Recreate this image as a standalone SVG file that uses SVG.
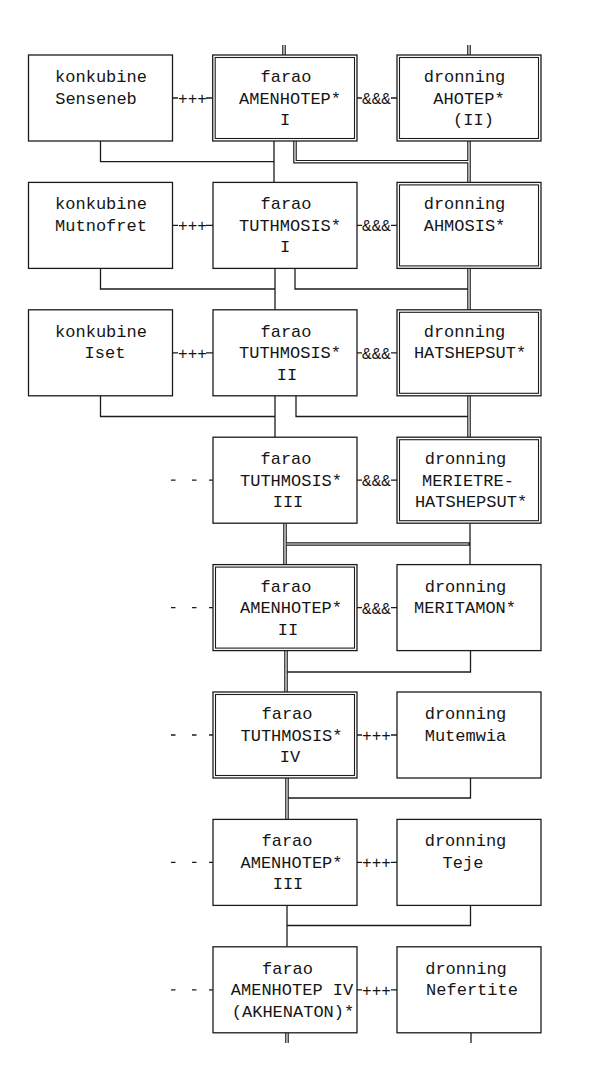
<svg xmlns="http://www.w3.org/2000/svg" width="595" height="1069" viewBox="0 0 595 1069">
<style>
rect.b{fill:#fff;stroke:#1c1c1c;stroke-width:1.3}
rect.in{fill:none;stroke:#1c1c1c;stroke-width:1.1}
text{font-family:"Liberation Mono","DejaVu Sans Mono",monospace;font-size:17px;fill:#151515;text-anchor:middle}
text.sym{font-size:16px}
.c path{fill:none;stroke:#1c1c1c;stroke-width:1.3}
.c .dbl{stroke-width:3.6}
.c .dbli{stroke:#fff;stroke-width:1.2}
</style>
<rect x="0" y="0" width="595" height="1069" fill="#fff"/>
<g class="c" id="connectors">
<path class="dbl" d="M284 45V55M469 45V55"/>
<path class="dbli" d="M284 45V55M469 45V55"/>
<path d="M100.5 141V161.7H274M274 141V182.4"/>
<path class="dbl" d="M295 141V161.7H469M469 141V182.4"/>
<path class="dbli" d="M295 141V161.7H469M469 141V182.4"/>
<path d="M100.5 268.4V289H275M275 268.4V309.8M295 268.4V289H469"/>
<path class="dbl" d="M469 268.4V309.8"/>
<path class="dbli" d="M469 268.4V309.8"/>
<path d="M100.5 395.8V416.5H275M275 395.8V437.2M296 395.8V416.5H469"/>
<path class="dbl" d="M469 395.8V437.2"/>
<path class="dbli" d="M469 395.8V437.2"/>
<path d="M470 523.2V564.6"/>
<path class="dbl" d="M285 523.2V564.6M285 544H470"/>
<path class="dbli" d="M285 523.2V564.6M286.5 544H468.5"/>
<path d="M470.5 650.6V672H286"/>
<path class="dbl" d="M286 650.6V692"/>
<path class="dbli" d="M286 650.6V692"/>
<path d="M470.5 778V798H287"/>
<path class="dbl" d="M287 778V819.4"/>
<path class="dbli" d="M287 778V819.4"/>
<path d="M470.5 905.4V925.5H287M287 905.4V946.8"/>
<path class="dbl" d="M287 1032.8V1043"/>
<path class="dbli" d="M287 1032.8V1043"/>
<path d="M471 1032.8V1043"/>
<path d="M172.5 98H178M206 98H213M357 98H362M391 98H397"/>
<path d="M172.5 225.4H178M206 225.4H213M357 225.4H362M391 225.4H397"/>
<path d="M172.5 352.8H178M206 352.8H213M357 352.8H362M391 352.8H397"/>
<path d="M171 480.2H175.5M192 480.2H196.5M209 480.2H213M357 480.2H362M391 480.2H397"/>
<path d="M171 607.6H175.5M192 607.6H196.5M209 607.6H213M357 607.6H362M391 607.6H397"/>
<path d="M171 735H175.5M192 735H196.5M209 735H213M357 735H362M391 735H397"/>
<path d="M171 862.4H175.5M192 862.4H196.5M209 862.4H213M357 862.4H362M391 862.4H397"/>
<path d="M171 989.8H175.5M192 989.8H196.5M209 989.8H213M357 989.8H362M391 989.8H397"/>
<text class="sym" x="192.5" y="104">+++</text>
<text class="sym" x="376.5" y="104">&amp;&amp;&amp;</text>
<text class="sym" x="192.5" y="231.4">+++</text>
<text class="sym" x="376.5" y="231.4">&amp;&amp;&amp;</text>
<text class="sym" x="192.5" y="358.8">+++</text>
<text class="sym" x="376.5" y="358.8">&amp;&amp;&amp;</text>
<text class="sym" x="376.5" y="486.2">&amp;&amp;&amp;</text>
<text class="sym" x="376.5" y="613.6">&amp;&amp;&amp;</text>
<text class="sym" x="376.5" y="741">+++</text>
<text class="sym" x="376.5" y="868.4">+++</text>
<text class="sym" x="376.5" y="995.8">+++</text>
</g>
<g id="senseneb"><rect class="b" x="28.5" y="55" width="144" height="86"/><text x="101" y="82">konkubine</text><text x="96" y="103.5">Senseneb</text></g>
<g id="amenhotep1"><rect class="b" x="212.7" y="55" width="144.3" height="86"/><rect class="in" x="215.2" y="57.5" width="139.3" height="81"/><text x="286" y="82">farao</text><text x="290" y="103.5">AMENHOTEP*</text><text x="285" y="125">I</text></g>
<g id="ahotep"><rect class="b" x="397" y="55" width="144" height="86"/><rect class="in" x="399.5" y="57.5" width="139" height="81"/><text x="464.5" y="82">dronning</text><text x="469" y="103.5">AHOTEP*</text><text x="473.5" y="125">(II)</text></g>
<g id="mutnofret"><rect class="b" x="28.5" y="182.4" width="144" height="86"/><text x="101" y="209.4">konkubine</text><text x="101" y="230.9">Mutnofret</text></g>
<g id="tuthmosis1"><rect class="b" x="213" y="182.4" width="144" height="86"/><text x="286" y="209.4">farao</text><text x="290" y="230.9">TUTHMOSIS*</text><text x="285" y="252.4">I</text></g>
<g id="ahmosis"><rect class="b" x="397" y="182.4" width="144" height="86"/><rect class="in" x="399.5" y="184.9" width="139" height="81"/><text x="464.5" y="209.4">dronning</text><text x="464.5" y="230.9">AHMOSIS*</text></g>
<g id="iset"><rect class="b" x="28.5" y="309.8" width="144" height="86"/><text x="101" y="336.8">konkubine</text><text x="105" y="358.3">Iset</text></g>
<g id="tuthmosis2"><rect class="b" x="213" y="309.8" width="144" height="86"/><text x="286" y="336.8">farao</text><text x="290" y="358.3">TUTHMOSIS*</text><text x="287" y="379.8">II</text></g>
<g id="hatshepsut"><rect class="b" x="397" y="309.8" width="144" height="86"/><rect class="in" x="399.5" y="312.3" width="139" height="81"/><text x="464.5" y="336.8">dronning</text><text x="470" y="358.3">HATSHEPSUT*</text></g>
<g id="tuthmosis3"><rect class="b" x="213" y="437.2" width="144" height="86"/><text x="286" y="464.2">farao</text><text x="291" y="485.7">TUTHMOSIS*</text><text x="288" y="507.2">III</text></g>
<g id="merietre"><rect class="b" x="397" y="437.2" width="144" height="86"/><rect class="in" x="399.5" y="439.7" width="139" height="81"/><text x="465.5" y="464.2">dronning</text><text x="468" y="485.7">MERIETRE-</text><text x="471" y="507.2">HATSHEPSUT*</text></g>
<g id="amenhotep2"><rect class="b" x="213" y="564.6" width="144" height="86"/><rect class="in" x="215.5" y="567.1" width="139" height="81"/><text x="286" y="591.6">farao</text><text x="291" y="613.1">AMENHOTEP*</text><text x="288" y="634.6">II</text></g>
<g id="meritamon"><rect class="b" x="397" y="564.6" width="144" height="86"/><text x="465.5" y="591.6">dronning</text><text x="465" y="613.1">MERITAMON*</text></g>
<g id="tuthmosis4"><rect class="b" x="213" y="692" width="144" height="86"/><rect class="in" x="215.5" y="694.5" width="139" height="81"/><text x="287" y="719">farao</text><text x="291.5" y="740.5">TUTHMOSIS*</text><text x="290" y="762">IV</text></g>
<g id="mutemwia"><rect class="b" x="397" y="692" width="144" height="86"/><text x="465.5" y="719">dronning</text><text x="465.5" y="740.5">Mutemwia</text></g>
<g id="amenhotep3"><rect class="b" x="213" y="819.4" width="144" height="86"/><text x="287" y="846.4">farao</text><text x="291.5" y="867.9">AMENHOTEP*</text><text x="288" y="889.4">III</text></g>
<g id="teje"><rect class="b" x="397" y="819.4" width="144" height="86"/><text x="465.5" y="846.4">dronning</text><text x="463" y="867.9">Teje</text></g>
<g id="amenhotep4"><rect class="b" x="213" y="946.8" width="144" height="86"/><text x="287.5" y="973.8">farao</text><text x="292" y="995.3">AMENHOTEP IV</text><text x="293" y="1016.8">(AKHENATON)*</text></g>
<g id="nefertite"><rect class="b" x="397" y="946.8" width="144" height="86"/><text x="466" y="973.8">dronning</text><text x="472" y="995.3">Nefertite</text></g>
</svg>
